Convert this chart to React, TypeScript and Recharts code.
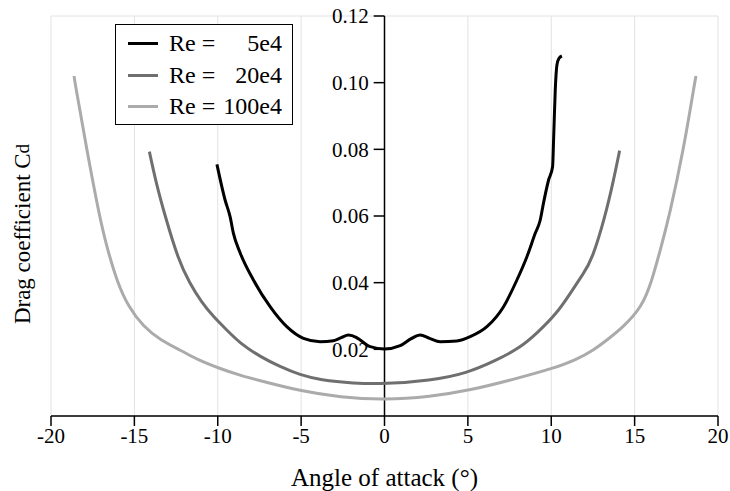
import React from 'react';
import { LineChart, Line, XAxis, YAxis, CartesianGrid, ReferenceLine, Legend } from 'recharts';

const aoa5e4 = [-10.05, -9.56, -9.26, -9.06, -8.66, -7.86, -6.86, -5.86, -4.86, -3.86, -3.06, -2.6, -2.16, -1.7, -1.46, -0.86, 0, 0.94, 1.6, 2.14, 2.7, 3.34, 4.34, 5.14, 6.14, 7.14, 7.94, 8.54, 9.04, 9.34, 9.54, 9.84, 10.08, 10.14, 10.24, 10.34, 10.45, 10.64];
const cd5e4 = [0.0755, 0.0648, 0.0598, 0.0548, 0.049, 0.0408, 0.0328, 0.0268, 0.0233, 0.0223, 0.0226, 0.0235, 0.0243, 0.0236, 0.0228, 0.0208, 0.0201, 0.0211, 0.0232, 0.0243, 0.0233, 0.0223, 0.0225, 0.0238, 0.0268, 0.0328, 0.0408, 0.0478, 0.0548, 0.0588, 0.064, 0.0708, 0.0748, 0.0828, 0.0978, 0.1053, 0.1072, 0.108];

const aoa20e4 = [-14.1, -13.7, -13.16, -12.36, -11.7, -10.96, -10.26, -9.46, -8.66, -7.46, -6.26, -5.06, -3.86, -1.86, 0, 2.74, 4.94, 6.74, 8.14, 9.14, 10.34, 11.14, 11.94, 12.44, 13.24, 13.74, 14.1];
const cd20e4 = [0.0793, 0.07, 0.06, 0.0468, 0.04, 0.034, 0.0298, 0.0258, 0.0218, 0.0178, 0.0148, 0.0123, 0.0108, 0.0098, 0.0096, 0.0106, 0.0128, 0.0168, 0.0205, 0.0248, 0.0308, 0.0368, 0.0428, 0.0468, 0.06, 0.0708, 0.0796];

const aoa100e4 = [-18.62, -18.56, -17.86, -17.1, -16.66, -16.02, -15.36, -14.46, -13.46, -12.06, -11.26, -9.86, -8.66, -7.46, -5.06, -2.66, 0, 2.74, 5.14, 7.74, 10.14, 11.54, 12.54, 13.34, 14.34, 15.44, 16.0, 16.54, 17.08, 17.94, 18.6, 18.68];
const cd100e4 = [0.102, 0.1, 0.08, 0.06, 0.0508, 0.04, 0.0328, 0.0268, 0.0228, 0.0193, 0.017, 0.0142, 0.0122, 0.0106, 0.0075, 0.0056, 0.0048, 0.0058, 0.0077, 0.011, 0.0143, 0.017, 0.0198, 0.0228, 0.0268, 0.0328, 0.04, 0.0498, 0.06, 0.08, 0.1, 0.102];

const seriesNames = ['Re =', 'Re =', 'Re ='];
const seriesValues = ['5e4', '20e4', '100e4'];
const seriesColors = ['#000000', '#6f6f6f', '#ababab'];
const seriesCurves = ['monotone', 'basis', 'basis'];

const xTicks = [-20, -15, -10, -5, 0, 5, 10, 15, 20];
const yTicks = [0, 0.02, 0.04, 0.06, 0.08, 0.1, 0.12];
const yLabelTicks = [0.02, 0.04, 0.06, 0.08, 0.1, 0.12];

const zip = (xs: number[], ys: number[]) => xs.map((x, i) => ({ aoa: x, cd: ys[i] }));
const data5e4 = zip(aoa5e4, cd5e4);
const data20e4 = zip(aoa20e4, cd20e4);
const data100e4 = zip(aoa100e4, cd100e4);
const allSeries = [data5e4, data20e4, data100e4];

const FONT = '"Liberation Serif", "Times New Roman", serif';

const LegendBox = () => (
  <div
    style={{
      width: 178,
      height: 101,
      boxSizing: 'border-box',
      border: '1.5px solid #000',
      background: '#fff',
      padding: '3px 10px 0 12px',
      fontFamily: FONT,
      fontSize: 24,
      color: '#000',
    }}
  >
    {seriesNames.map((n, i) => (
      <div key={i} style={{ display: 'flex', alignItems: 'center', height: 31.5 }}>
        <div style={{ width: 30, height: 3, background: seriesColors[i], marginRight: 11 }} />
        <span style={{ whiteSpace: 'pre' }}>{n}</span>
        <span style={{ flex: 1, textAlign: 'right' }}>{seriesValues[i]}</span>
      </div>
    ))}
  </div>
);

const YTitle = (props: any) => {
  const vb = props.viewBox || { x: 0, y: 0, width: 0, height: 0 };
  const cx = vb.x + 22;
  const cy = vb.y + vb.height / 2 + 18;
  return (
    <text
      x={cx}
      y={cy}
      transform={`rotate(-90, ${cx}, ${cy})`}
      textAnchor="middle"
      dominantBaseline="central"
      fontFamily={FONT}
      fontSize={23}
      fill="#000"
    >
      Drag coefficient C<tspan fontSize={19}>d</tspan>
    </text>
  );
};

export default function App() {
  return (
    <div style={{ position: 'absolute', left: 0, top: 0, width: 730, height: 491, overflow: 'hidden' }}>
      <LineChart width={730} height={491} margin={{ top: 16, right: 12, bottom: 0, left: 0 }}>
        <CartesianGrid stroke="#e2e2e2" strokeWidth={1} />
        <XAxis
          type="number"
          dataKey="aoa"
          domain={[-20, 20]}
          ticks={xTicks}
          allowDataOverflow
          height={75}
          stroke="#000"
          strokeWidth={1.5}
          tickSize={10}
          tick={{ fill: '#000', fontSize: 21, fontFamily: FONT }}
          tickLine={{ stroke: '#000', strokeWidth: 1.5 }}
          label={{ value: 'Angle of attack (°)', position: 'insideBottom', offset: 5, fill: '#000', fontSize: 25, fontFamily: FONT }}
        />
        <YAxis
          type="number"
          dataKey="cd"
          domain={[0, 0.12]}
          ticks={yTicks}
          allowDataOverflow
          width={51}
          axisLine={false}
          tickLine={false}
          tick={false}
          label={<YTitle />}
        />
        <ReferenceLine x={0} stroke="#000" strokeWidth={1.5} />
        {yLabelTicks.map((v) => (
          <ReferenceLine
            key={v}
            segment={[{ x: -0.65, y: v }, { x: 0, y: v }]}
            stroke="#000"
            strokeWidth={1.5}
            label={{ value: v.toFixed(2), position: 'left', offset: 5, fill: '#000', fontSize: 21, fontFamily: FONT }}
          />
        ))}
        {allSeries.map((d, i) => (
          <Line
            key={i}
            data={d}
            dataKey="cd"
            type={seriesCurves[i] as any}
            stroke={seriesColors[i]}
            strokeWidth={3}
            dot={false}
            isAnimationActive={false}
            name={`${seriesNames[i]} ${seriesValues[i]}`}
          />
        ))}
        <Legend
          layout="horizontal"
          verticalAlign="middle"
          align="center"
          content={<LegendBox />}
          wrapperStyle={{ left: 115, top: 24, width: 178, height: 101 }}
        />
      </LineChart>
    </div>
  );
}
